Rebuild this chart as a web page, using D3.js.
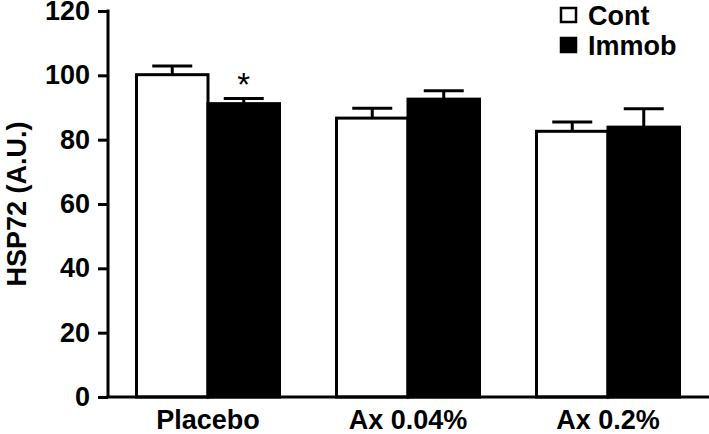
<!DOCTYPE html>
<html>
<head>
<meta charset="utf-8">
<script src="https://cdn.jsdelivr.net/npm/d3@7"></script>
<style>
  html, body { margin: 0; padding: 0; background: #fff; }
  svg { display: block; font-family: "Liberation Sans", Arial, sans-serif; font-weight: bold; }
</style>
</head>
<body>
<svg id="chart" width="709" height="434"></svg>
<script>
const categories = ["Placebo", "Ax 0.04%", "Ax 0.2%"];
const seriesNames = ["Cont", "Immob"];
const contValues = [100.2, 86.7, 82.6];
const contErrors = [2.7, 3.1, 2.9];
const immobValues = [91.2, 92.6, 83.9];
const immobErrors = [1.6, 2.6, 5.7];
const yTicks = [0, 20, 40, 60, 80, 100, 120];
const significance = ["*", "", ""]; // marks on Immob bars

const svg = d3.select("#chart");
const W = 709, H = 434;
const axisX = 108, axisY = 397, topY = 11;

const x = d3.scaleBand().domain(categories).range([axisX, axisX + 600])
  .paddingInner(0.285).paddingOuter(0.1425);
const xs = d3.scaleBand().domain(seriesNames).range([0, x.bandwidth()]);
const y = d3.scaleLinear().domain([0, 120]).range([axisY, topY]);

const rows = [];
categories.forEach((c, i) => {
  rows.push({cat: c, s: "Cont", v: contValues[i], e: contErrors[i], sig: ""});
  rows.push({cat: c, s: "Immob", v: immobValues[i], e: immobErrors[i], sig: significance[i]});
});

const g = svg.append("g");

const eb = g.selectAll(".err").data(rows).enter().append("g");
eb.append("line")
  .attr("x1", d => x(d.cat) + xs(d.s) + xs.bandwidth() / 2)
  .attr("x2", d => x(d.cat) + xs(d.s) + xs.bandwidth() / 2)
  .attr("y1", d => y(d.v)).attr("y2", d => y(d.v + d.e))
  .attr("stroke", "#000").attr("stroke-width", 3);
eb.append("line")
  .attr("x1", d => x(d.cat) + xs(d.s) + xs.bandwidth() / 2 - 20)
  .attr("x2", d => x(d.cat) + xs(d.s) + xs.bandwidth() / 2 + 20)
  .attr("y1", d => y(d.v + d.e)).attr("y2", d => y(d.v + d.e))
  .attr("stroke", "#000").attr("stroke-width", 3);

g.selectAll(".bar").data(rows).enter().append("rect")
  .attr("x", d => x(d.cat) + xs(d.s))
  .attr("y", d => y(d.v))
  .attr("width", xs.bandwidth())
  .attr("height", d => y(0) - y(d.v))
  .attr("fill", d => d.s === "Cont" ? "#fff" : "#000")
  .attr("stroke", "#000").attr("stroke-width", 3);

g.selectAll(".sig").data(rows.filter(d => d.sig)).enter().append("text")
  .attr("x", d => x(d.cat) + xs(d.s) + xs.bandwidth() / 2)
  .attr("y", d => y(d.v + d.e) - 2)
  .attr("text-anchor", "middle")
  .attr("font-size", 33).attr("font-weight", "normal")
  .text(d => d.sig);

const yAxis = d3.axisLeft(y).tickValues(yTicks).tickSize(10).tickPadding(8);
const ya = svg.append("g").attr("transform", `translate(${axisX},0)`).call(yAxis);
ya.select(".domain").attr("stroke-width", 3).attr("d", `M0,${topY - 1.5}V${axisY}`);
ya.selectAll(".tick line").attr("stroke-width", 3);
ya.selectAll(".tick text").attr("font-size", 27).attr("font-weight", "bold")
  .attr("font-family", "Liberation Sans, Arial, sans-serif").attr("fill", "#000");

const xAxis = d3.axisBottom(x).tickSize(0).tickPadding(13);
const xa = svg.append("g").attr("transform", `translate(0,${axisY})`).call(xAxis);
xa.select(".domain").attr("stroke-width", 3).attr("d", `M${axisX - 1.5},0H${W}`);
xa.selectAll(".tick text").attr("font-size", 27).attr("font-weight", "bold")
  .attr("font-family", "Liberation Sans, Arial, sans-serif").attr("fill", "#000");

svg.append("text")
  .attr("transform", `translate(26,204) rotate(-90)`)
  .attr("text-anchor", "middle")
  .attr("font-size", 27)
  .text("HSP72 (A.U.)");

const lg = svg.append("g").attr("transform", "translate(561,4)");
seriesNames.forEach((s, i) => {
  const row = lg.append("g").attr("transform", `translate(0,${i * 30})`);
  row.append("rect").attr("x", 0).attr("y", 4).attr("width", 15).attr("height", 14)
    .attr("fill", s === "Cont" ? "#fff" : "#000").attr("stroke", "#000").attr("stroke-width", 2.5);
  row.append("text").attr("x", 27).attr("y", 21).attr("font-size", 27).text(s);
});
</script>
</body>
</html>
